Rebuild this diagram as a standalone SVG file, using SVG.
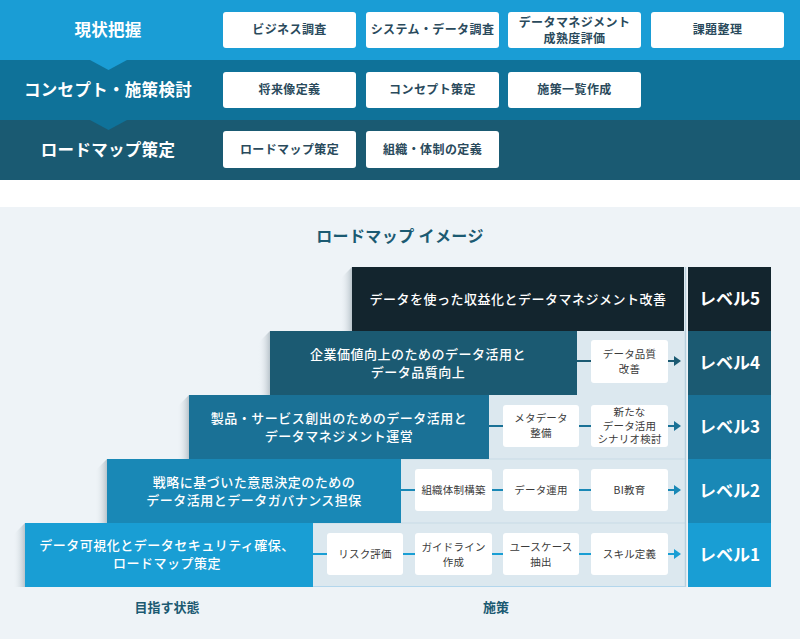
<svg xmlns="http://www.w3.org/2000/svg" width="800" height="639" viewBox="0 0 800 639">
<defs>
<linearGradient id="sh" x1="0" y1="0" x2="1" y2="0">
<stop offset="0" stop-color="#eef3f7" stop-opacity="0"/>
<stop offset="1" stop-color="#b9c4cb"/>
</linearGradient>
<style>
text{font-family:"Noto Sans CJK JP","Noto Sans",sans-serif;}
.ph{font-size:16.5px;font-weight:bold;fill:#fff;text-anchor:middle;letter-spacing:0.3px;}
.tb{fill:#fff;}
.tt{font-size:12px;font-weight:bold;fill:#2a4a5c;text-anchor:middle;letter-spacing:0.4px;}
.bt{font-size:13px;font-weight:500;fill:#fff;text-anchor:middle;letter-spacing:0.5px;}
.lv{font-size:17px;font-weight:bold;fill:#fff;text-anchor:middle;}
.ab{fill:#fff;}
.at{font-size:10.5px;fill:#3a3a3a;text-anchor:middle;letter-spacing:0.2px;}
.lb{font-size:13px;font-weight:bold;fill:#1b5a72;text-anchor:middle;}
</style>
</defs>
<rect width="800" height="639" fill="#fff"/>
<rect x="0" y="207" width="800" height="432" fill="#eef3f7"/>

<!-- top phases -->
<g id="phase3">
<rect x="0" y="120" width="800" height="60" fill="#1a5a72"/>
<text class="ph" x="108" y="156">ロードマップ策定</text>
</g>
<g id="phase2">
<rect x="0" y="60" width="800" height="60" fill="#0f7299"/>
<polygon points="90,120 127,120 108.5,130" fill="#0f7299"/>
<text class="ph" x="108" y="96">コンセプト・施策検討</text>
</g>
<g id="phase1">
<rect x="0" y="0" width="800" height="60" fill="#1a9dd5"/>
<polygon points="90,60 127,60 108.5,70" fill="#1a9dd5"/>
<text class="ph" x="108" y="36">現状把握</text>
</g>

<g id="task-business"><rect class="tb" x="223" y="12" width="133" height="36" rx="3"/><text class="tt" x="289.5" y="34">ビジネス調査</text></g>
<g id="task-system"><rect class="tb" x="366" y="12" width="133" height="36" rx="3"/><text class="tt" x="432.5" y="34">システム・データ調査</text></g>
<g id="task-maturity"><rect class="tb" x="508" y="12" width="133" height="36" rx="3"/><text class="tt" x="574.5" y="27" font-size="11.5">データマネジメント<tspan x="574.5" dy="15.5">成熟度評価</tspan></text></g>
<g id="task-issue"><rect class="tb" x="651" y="12" width="133" height="36" rx="3"/><text class="tt" x="717.5" y="34">課題整理</text></g>
<g id="task-future"><rect class="tb" x="223" y="72" width="133" height="36" rx="3"/><text class="tt" x="289.5" y="94">将来像定義</text></g>
<g id="task-concept"><rect class="tb" x="366" y="72" width="133" height="36" rx="3"/><text class="tt" x="432.5" y="94">コンセプト策定</text></g>
<g id="task-list"><rect class="tb" x="508" y="72" width="133" height="36" rx="3"/><text class="tt" x="574.5" y="94">施策一覧作成</text></g>
<g id="task-roadmap"><rect class="tb" x="223" y="131" width="133" height="37" rx="3"/><text class="tt" x="289.5" y="154">ロードマップ策定</text></g>
<g id="task-org"><rect class="tb" x="366" y="131" width="133" height="37" rx="3"/><text class="tt" x="432.5" y="154">組織・体制の定義</text></g>

<text x="400" y="242" font-size="16" font-weight="bold" fill="#1b5a72" text-anchor="middle" letter-spacing="0.4">ロードマップ イメージ</text>

<!-- light panel -->
<rect x="313" y="331" width="372" height="256" fill="#dce8ef"/>
<line x1="313" y1="459" x2="685" y2="459" stroke="#c8dbe6" stroke-width="1"/>
<line x1="313" y1="523" x2="685" y2="523" stroke="#c8dbe6" stroke-width="1"/>
<line x1="313" y1="586.5" x2="685" y2="586.5" stroke="#b3d6ec" stroke-width="1"/>
<line x1="685.5" y1="267" x2="685.5" y2="587" stroke="#b8d0dd" stroke-width="1.5"/>

<!-- shadows -->
<polygon points="352,267 340,279 340,331 352,331" fill="url(#sh)"/>
<polygon points="270,331 258,343 258,395 270,395" fill="url(#sh)"/>
<polygon points="189,395 177,407 177,459 189,459" fill="url(#sh)"/>
<polygon points="107,459 95,471 95,523 107,523" fill="url(#sh)"/>
<polygon points="25,523 13,535 13,587 25,587" fill="url(#sh)"/>

<g id="state5"><rect x="352" y="267" width="332" height="64" fill="#13252e"/><text class="bt" x="518" y="303.5">データを使った収益化とデータマネジメント改善</text></g>
<g id="state4"><rect x="270" y="331" width="307" height="64" fill="#1b5a72"/><text class="bt" x="418" y="358.5">企業価値向上のためのデータ活用と<tspan x="418" dy="18.5">データ品質向上</tspan></text></g>
<g id="state3"><rect x="189" y="395" width="300" height="64" fill="#1a7196"/><text class="bt" x="339" y="422.5">製品・サービス創出のためのデータ活用と<tspan x="339" dy="18.5">データマネジメント運営</tspan></text></g>
<g id="state2"><rect x="107" y="459" width="294" height="64" fill="#1988b6"/><text class="bt" x="254" y="486.5">戦略に基づいた意思決定のための<tspan x="254" dy="18.5">データ活用とデータガバナンス担保</tspan></text></g>
<g id="state1"><rect x="25" y="523" width="288" height="64" fill="#199ed4"/><text class="bt" x="167" y="549.5">データ可視化とデータセキュリティ確保、<tspan x="167" dy="18.5">ロードマップ策定</tspan></text></g>

<g id="level5"><rect x="688" y="267" width="83" height="64" fill="#13252e"/><text class="lv" x="729.5" y="305">レベル5</text></g>
<g id="level4"><rect x="688" y="331" width="83" height="64" fill="#1b5a72"/><text class="lv" x="729.5" y="369">レベル4</text></g>
<g id="level3"><rect x="688" y="395" width="83" height="64" fill="#1a7196"/><text class="lv" x="729.5" y="433">レベル3</text></g>
<g id="level2"><rect x="688" y="459" width="83" height="64" fill="#1988b6"/><text class="lv" x="729.5" y="497">レベル2</text></g>
<g id="level1"><rect x="688" y="523" width="83" height="64" fill="#199ed4"/><text class="lv" x="729.5" y="561">レベル1</text></g>

<!-- connectors -->
<g id="connectors" stroke-width="2">
<g stroke="#1b5a72" fill="#1b5a72">
<line x1="577" y1="361" x2="591" y2="361"/>
<line x1="668" y1="361" x2="675" y2="361"/>
<polygon points="674,356 681,361 674,366" stroke="none"/>
</g>
<g stroke="#1a7196" fill="#1a7196">
<line x1="489" y1="426" x2="503" y2="426"/>
<line x1="579" y1="426" x2="591" y2="426"/>
<line x1="668" y1="426" x2="675" y2="426"/>
<polygon points="674,421 681,426 674,431" stroke="none"/>
</g>
<g stroke="#1988b6" fill="#1988b6">
<line x1="401" y1="490" x2="415" y2="490"/>
<line x1="492" y1="490" x2="503" y2="490"/>
<line x1="579" y1="490" x2="591" y2="490"/>
<line x1="668" y1="490" x2="675" y2="490"/>
<polygon points="674,485 681,490 674,495" stroke="none"/>
</g>
<g stroke="#199ed4" fill="#199ed4">
<line x1="313" y1="554" x2="327" y2="554"/>
<line x1="403" y1="554" x2="415" y2="554"/>
<line x1="492" y1="554" x2="503" y2="554"/>
<line x1="579" y1="554" x2="591" y2="554"/>
<line x1="668" y1="554" x2="675" y2="554"/>
<polygon points="674,549 681,554 674,559" stroke="none"/>
</g>
</g>

<!-- action boxes -->
<g id="act-quality"><rect class="ab" x="591" y="340" width="77" height="43" rx="3"/><text class="at" x="629.5" y="358">データ品質<tspan x="629.5" dy="14.5">改善</tspan></text></g>
<g id="act-meta"><rect class="ab" x="503" y="405" width="76" height="42" rx="3"/><text class="at" x="541" y="422">メタデータ<tspan x="541" dy="14.5">整備</tspan></text></g>
<g id="act-scenario"><rect class="ab" x="591" y="405" width="77" height="42" rx="3"/><text class="at" x="629.5" y="416" font-size="9.8">新たな<tspan x="629.5" dy="13.5">データ活用</tspan><tspan x="629.5" dy="13.5">シナリオ検討</tspan></text></g>
<g id="act-org"><rect class="ab" x="415" y="469" width="77" height="42" rx="3"/><text class="at" x="453.5" y="494">組織体制構築</text></g>
<g id="act-ops"><rect class="ab" x="503" y="469" width="76" height="42" rx="3"/><text class="at" x="541" y="494">データ運用</text></g>
<g id="act-bi"><rect class="ab" x="591" y="469" width="77" height="42" rx="3"/><text class="at" x="629.5" y="494">BI教育</text></g>
<g id="act-risk"><rect class="ab" x="327" y="533" width="76" height="42" rx="3"/><text class="at" x="365" y="558">リスク評価</text></g>
<g id="act-guide"><rect class="ab" x="415" y="533" width="77" height="42" rx="3"/><text class="at" x="453.5" y="551">ガイドライン<tspan x="453.5" dy="14.5">作成</tspan></text></g>
<g id="act-usecase"><rect class="ab" x="503" y="533" width="76" height="42" rx="3"/><text class="at" x="541" y="551">ユースケース<tspan x="541" dy="14.5">抽出</tspan></text></g>
<g id="act-skill"><rect class="ab" x="591" y="533" width="77" height="42" rx="3"/><text class="at" x="629.5" y="558">スキル定義</text></g>

<text class="lb" x="167" y="612">目指す状態</text>
<text class="lb" x="496" y="612">施策</text>
</svg>
